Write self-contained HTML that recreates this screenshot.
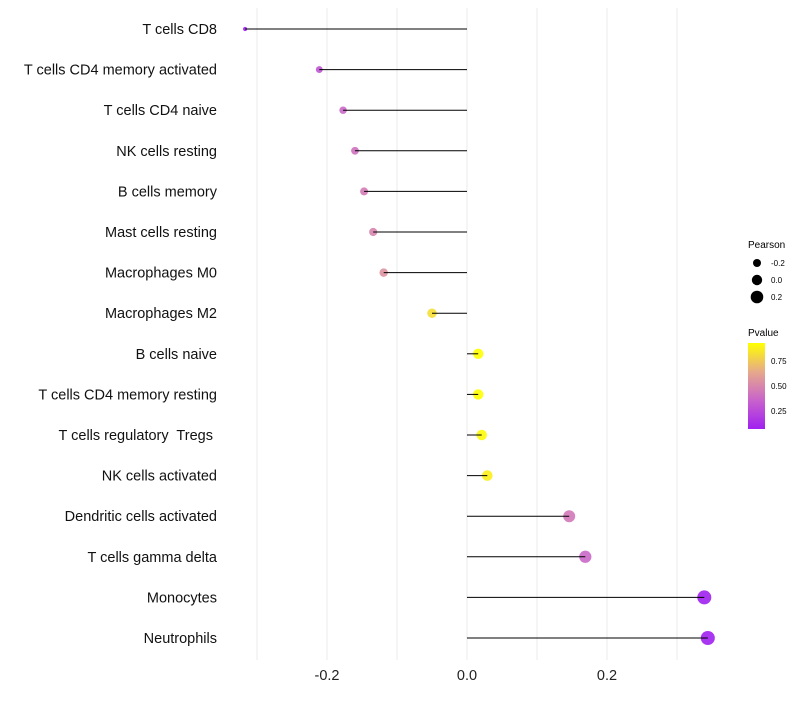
<!DOCTYPE html>
<html><head><meta charset="utf-8"><style>
body{margin:0;background:#fff;font-family:"Liberation Sans",sans-serif}
text{white-space:pre}
</style></head><body>
<svg id="chart" width="800" height="700" xmlns="http://www.w3.org/2000/svg" font-family="Liberation Sans, sans-serif">
<defs><linearGradient id="pg" x1="0" y1="1" x2="0" y2="0">
<stop offset="0" stop-color="#a020f0"/><stop offset="0.33" stop-color="#c862cc"/><stop offset="0.66" stop-color="#e6a88c"/><stop offset="1" stop-color="#ffff00"/></linearGradient></defs>
<g id="grid"></g>
<g id="marks"></g>
<g id="labels"></g>
<g id="xt"></g>
<g>
<text x="748" y="248" font-size="10">Pearson</text>
<circle cx="757" cy="263" r="4" fill="#000"/><text x="771" y="266" font-size="8">-0.2</text>
<circle cx="757" cy="280" r="5.2" fill="#000"/><text x="771" y="283" font-size="8">0.0</text>
<circle cx="757" cy="297" r="6.3" fill="#000"/><text x="771" y="300" font-size="8">0.2</text>
</g>
<g>
<text x="748" y="336" font-size="10">Pvalue</text>
<rect x="748" y="343" width="17" height="86" fill="url(#pg)"/>
<text x="771" y="364" font-size="8">0.75</text>
<text x="771" y="389" font-size="8">0.50</text>
<text x="771" y="414" font-size="8">0.25</text>
</g>
</svg>
<script>
const categories=["T cells CD8","T cells CD4 memory activated","T cells CD4 naive","NK cells resting","B cells memory","Mast cells resting","Macrophages M0","Macrophages M2","B cells naive","T cells CD4 memory resting","T cells regulatory  Tregs ","NK cells activated","Dendritic cells activated","T cells gamma delta","Monocytes","Neutrophils"];
const pearson=[-0.317,-0.211,-0.177,-0.16,-0.147,-0.134,-0.119,-0.05,0.016,0.016,0.021,0.029,0.146,0.169,0.339,0.344];
const pvalue=[0.08,0.3,0.38,0.42,0.46,0.5,0.56,0.82,0.93,0.93,0.91,0.88,0.45,0.38,0.08,0.08];
const xTicks=[-0.2,0,0.2];
const xTickLabels=["-0.2","0.0","0.2"];
const gridVals=[-0.3,-0.2,-0.1,0,0.1,0.2,0.3];
const NS="http://www.w3.org/2000/svg";
const x=v=>467+v*700;
const y=i=>29+i*40.6;
const rad=p=>Math.sqrt(Math.max(3,26+68*p));
function lerp(a,b,t){return a.map((v,k)=>Math.round(v+(b[k]-v)*t));}
const stops=[[0,[160,32,240]],[0.33,[200,98,204]],[0.66,[230,168,140]],[1,[255,255,0]]];
function col(p){let t=(p-0.08)/(0.93-0.08);t=Math.max(0,Math.min(1,t));for(let k=1;k<stops.length;k++){if(t<=stops[k][0]){const s=stops[k-1],e=stops[k];const c=lerp(s[1],e[1],(t-s[0])/(e[0]-s[0]));return `rgb(${c})`;}}return "rgb(255,255,0)";}
function mk(tag,at,parent){const e=document.createElementNS(NS,tag);for(const k in at)e.setAttribute(k,at[k]);document.getElementById(parent).appendChild(e);return e;}
gridVals.forEach(v=>{const l=mk('line',{x1:x(v),x2:x(v),y1:8,y2:660,stroke:'#ebebeb','stroke-width':1},'grid');

});
categories.forEach((c,i)=>{
const t=mk('text',{x:217,y:y(i)+5,'text-anchor':'end','font-size':14.5,fill:'#111'},'labels');t.textContent=c;


const ci=mk('circle',{cx:x(pearson[i]),cy:y(i),r:rad(pearson[i]),fill:col(pvalue[i]),'fill-opacity':0.9},'marks');


const s=mk('line',{x1:x(0),x2:x(pearson[i]),y1:y(i),y2:y(i),stroke:'#000','stroke-width':1},'marks');


});
xTicks.forEach((v,i)=>{const t=mk('text',{x:x(v),y:680,'text-anchor':'middle','font-size':14.5,fill:'#222'},'xt');t.textContent=xTickLabels[i];

});
</script>
</body></html>
